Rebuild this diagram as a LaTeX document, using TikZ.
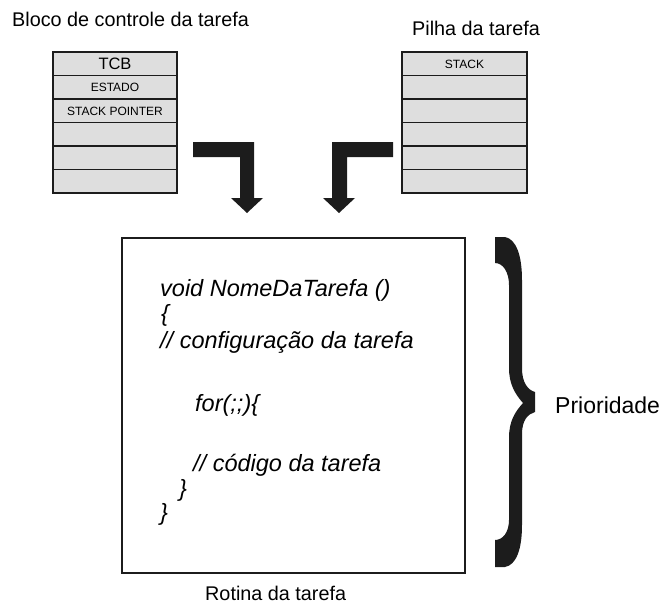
\documentclass[tikz,border=0pt]{standalone}
\usepackage{fontspec}
\setmainfont{Liberation Sans}
\usepackage{tikz}
\definecolor{cellgray}{HTML}{DEDEDE}
\definecolor{inkblack}{HTML}{1C1C1C}
\tikzset{
  cell/.style={draw=inkblack, line width=1.8pt, fill=cellgray},
  title/.style={font=\fontsize{19.8}{23}\selectfont, inner sep=0pt, anchor=base west},
  code/.style={font=\fontsize{23.5}{28}\selectfont\itshape, inner sep=0pt, anchor=base west},
  celltext/.style={font=\fontsize{12}{14}\selectfont, inner sep=0pt},
  bentarrow/.style={fill=inkblack, draw=none},
}

\begin{document}
\begin{tikzpicture}[x=1pt,y=-1pt]
            \useasboundingbox (0,0) rectangle (665,605);
            % blocos TCB e pilha
            \foreach \i in {0,...,5}{
              \filldraw[cell] (53,52+23.5*\i) rectangle (177,75.5+23.5*\i);
              \filldraw[cell] (402,52+23.5*\i) rectangle (527,75.5+23.5*\i);
            }
            \node[title] (tcbtitle) at (12,27) {Bloco de controle da tarefa};
            \node[title] (pilhatitle) at (412,35) {Pilha da tarefa};
            \node[celltext, font=\fontsize{16.5}{19}\selectfont] (tcb) at (115,64) {TCB};
            \node[celltext] (estado) at (115,87.5) {ESTADO};
            \node[celltext] (sp) at (115,111) {STACK POINTER};
            \node[celltext] (stack) at (464.5,64) {STACK};
            % setas
            \fill[bentarrow] (193,142) -- (254,142) -- (254,198) -- (263,198) -- (247,213)
                -- (231,198) -- (240,198) -- (240,157) -- (193,157) -- cycle;
            \fill[bentarrow] (393,142) -- (332,142) -- (332,198) -- (323,198) -- (339,213)
                -- (355,198) -- (347,198) -- (347,157) -- (393,157) -- cycle;
            % rotina
            \draw[draw=inkblack, line width=2pt] (122,238) rectangle (465,573);
            \node[code] (l1) at (160,296) {void NomeDaTarefa ()};
            \node[code] (l2) at (161,321) {\{};
            \node[code] (l3) at (160,348) {// configuração da tarefa};
            \node[code] (l4) at (195,411) {for(;;)\{};
            \node[code] (l5) at (193,471) {// código da tarefa};
            \node[code] (l6) at (179,496) {\}};
            \node[code] (l7) at (160,520) {\}};
            \node[title] (rotina) at (205,600) {Rotina da tarefa};
            % chave
            \fill[inkblack] (495,237) -- (505,237) .. controls (516,239) and (522,255) .. (522,280)
                -- (522,368) .. controls (522,383) and (528,390) .. (535,392)
                -- (535,412) .. controls (528,414) and (522,420) .. (522,434)
                -- (522,525) .. controls (522,550) and (516,565) .. (505,567)
                -- (495,567) -- (495,540) .. controls (503,540) and (509,532) .. (509,520)
                -- (509,438) .. controls (509,421) and (515,412) .. (523,403)
                .. controls (515,394) and (509,384) .. (509,368)
                -- (509,285) .. controls (509,272) and (503,263) .. (495,263) -- cycle;
            \node[title, font=\fontsize{23}{27}\selectfont] (prioridade) at (555,413) {Prioridade};
        \end{tikzpicture}
\end{document}
